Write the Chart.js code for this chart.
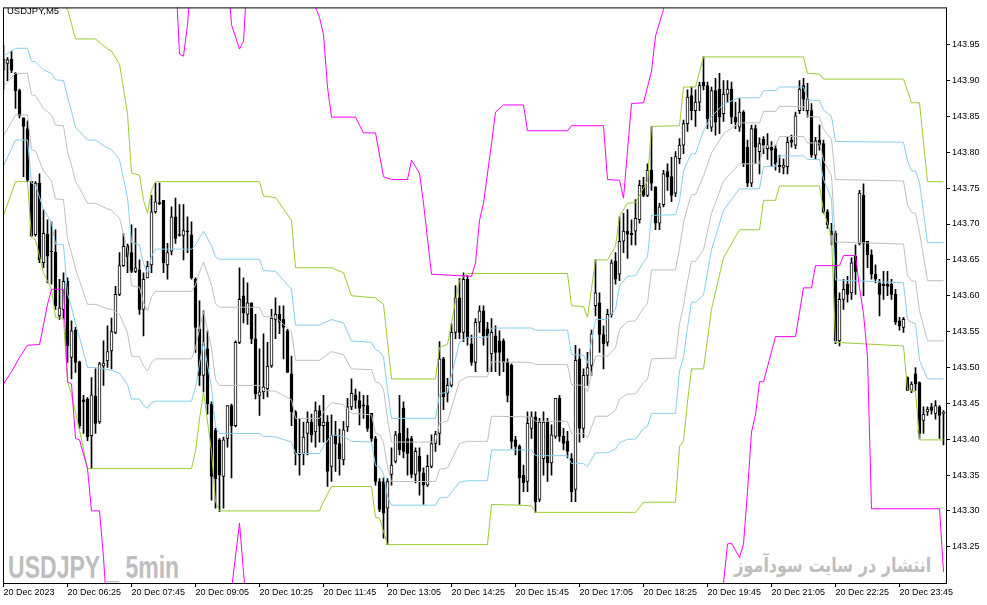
<!DOCTYPE html>
<html><head><meta charset="utf-8">
<script src="https://cdn.jsdelivr.net/npm/chart.js@4"></script>
<style>
html,body{margin:0;padding:0;background:#fff;}
#wrap{position:relative;width:987px;height:605px;overflow:hidden;background:#fff;}
#c{position:absolute;left:0;top:0;z-index:2;}
.wm{position:absolute;white-space:nowrap;color:#bebebe;z-index:1;line-height:1;}
#wm1{left:8px;top:549px;font:bold 32px "Liberation Sans",Arial,sans-serif;transform:scaleX(0.72);transform-origin:left top;}
#wm2{right:56px;top:553px;font:bold 20px "DejaVu Sans",sans-serif;transform:scaleX(0.8);transform-origin:right top;}
#title{position:absolute;left:7px;top:5px;z-index:3;font:9.5px "Liberation Sans",Arial,sans-serif;color:#000;line-height:11px;}
</style></head><body>
<div id="wrap">
<div class="wm" id="wm1">USDJPY _ 5min</div>
<div class="wm" id="wm2" dir="rtl">انتشار در سایت سودآموز</div>
<canvas id="c" width="987" height="605"></canvas>
<div id="title">USDJPY,M5</div>
</div>
<script>
// ---- tick labels ----
const xTickBars = [0,16,32,48,64,80,96,112,128,144,160,176,192,208,224];
const xTickLabels = ["20 Dec 2023","20 Dec 06:25","20 Dec 07:45","20 Dec 09:05","20 Dec 10:25","20 Dec 11:45","20 Dec 13:05","20 Dec 14:25","20 Dec 15:45","20 Dec 17:05","20 Dec 18:25","20 Dec 19:45","20 Dec 21:05","20 Dec 22:25","20 Dec 23:45"];
const yTickValues = [143.25,143.30,143.35,143.40,143.45,143.50,143.55,143.60,143.65,143.70,143.75,143.80,143.85,143.90,143.95];

// ---- candles (5 min bars, index 0 = first visible bar) ----
const opens = [143.915,143.924,143.930,143.910,143.886,143.848,143.833,143.759,143.685,143.757,143.646,143.686,143.662,143.661,143.572,143.581,143.620,143.514,143.552,143.508,143.455,143.456,143.405,143.460,143.424,143.502,143.509,143.523,143.549,143.602,143.642,143.670,143.660,143.634,143.636,143.581,143.625,143.643,143.717,143.730,143.733,143.643,143.662,143.710,143.685,143.684,143.690,143.685,143.623,143.553,143.489,143.526,143.449,143.412,143.399,143.348,143.401,143.447,143.419,143.535,143.600,143.574,143.590,143.540,143.461,143.466,143.470,143.502,143.567,143.574,143.567,143.551,143.491,143.438,143.380,143.380,143.408,143.424,143.410,143.440,143.419,143.424,143.362,143.406,143.394,143.371,143.417,143.445,143.462,143.454,143.448,143.447,143.436,143.401,143.341,143.341,143.304,143.351,143.369,143.408,143.443,143.401,143.401,143.351,143.376,143.353,143.336,143.362,143.394,143.408,143.512,143.464,143.475,143.549,143.597,143.549,143.623,143.533,143.507,143.563,143.579,143.554,143.519,143.544,143.537,143.537,143.507,143.503,143.399,143.390,143.350,143.341,143.415,143.431,143.316,143.373,143.424,143.367,143.404,143.457,143.404,143.397,143.373,143.330,143.512,143.415,143.489,143.503,143.586,143.590,143.546,143.535,143.574,143.648,143.630,143.676,143.690,143.687,143.690,143.706,143.754,143.740,143.775,143.752,143.701,143.727,143.773,143.766,143.743,143.791,143.810,143.840,143.879,143.858,143.870,143.898,143.893,143.835,143.886,143.888,143.854,143.881,143.888,143.849,143.835,143.856,143.807,143.757,143.833,143.801,143.818,143.805,143.807,143.805,143.782,143.779,143.780,143.817,143.810,143.858,143.893,143.858,143.858,143.796,143.817,143.812,143.717,143.690,143.687,143.537,143.595,143.616,143.604,143.655,143.673,143.740,143.676,143.657,143.630,143.618,143.616,143.616,143.616,143.602,143.565,143.556,143.486,143.468,143.491,143.479,143.426,143.438,143.445,143.436,143.445,143.436];
const highs = [143.949,143.932,143.941,143.911,143.888,143.848,143.844,143.759,143.759,143.770,143.720,143.706,143.703,143.692,143.623,143.632,143.625,143.565,143.556,143.509,143.461,143.458,143.486,143.498,143.507,143.537,143.558,143.569,143.613,143.660,143.687,143.672,143.699,143.694,143.650,143.632,143.648,143.740,143.757,143.757,143.733,143.673,143.724,143.736,143.727,143.727,143.710,143.703,143.625,143.593,143.579,143.551,143.452,143.415,143.401,143.403,143.447,143.449,143.537,143.639,143.625,143.618,143.590,143.574,143.526,143.547,143.535,143.581,143.597,143.586,143.586,143.553,143.516,143.440,143.429,143.424,143.438,143.435,143.452,143.447,143.461,143.433,143.434,143.425,143.414,143.425,143.457,143.484,143.470,143.466,143.461,143.461,143.436,143.404,143.345,143.346,143.345,143.388,143.411,143.461,143.452,143.415,143.404,143.388,143.388,143.360,143.378,143.406,143.411,143.536,143.514,143.485,143.561,143.614,143.624,143.632,143.628,143.545,143.568,143.586,143.586,143.563,143.568,143.558,143.551,143.540,143.512,143.505,143.404,143.392,143.364,143.438,143.438,143.438,143.429,143.438,143.429,143.420,143.457,143.461,143.415,143.411,143.380,143.531,143.526,143.498,143.521,143.552,143.650,143.604,143.558,143.581,143.650,143.660,143.710,143.715,143.720,143.706,143.734,143.761,143.765,143.784,143.836,143.752,143.729,143.775,143.784,143.793,143.801,143.819,143.845,143.887,143.891,143.887,143.898,143.933,143.898,143.891,143.903,143.910,143.900,143.900,143.898,143.870,143.875,143.858,143.817,143.838,143.838,143.820,143.822,143.826,143.815,143.810,143.796,143.791,143.822,143.824,143.856,143.900,143.903,143.896,143.868,143.821,143.838,143.817,143.720,143.701,143.690,143.604,143.623,143.627,143.653,143.671,143.747,143.756,143.676,143.664,143.643,143.623,143.634,143.634,143.623,143.609,143.570,143.570,143.487,143.480,143.500,143.480,143.445,143.445,143.450,143.454,143.447,143.440];
const lows = [143.888,143.900,143.911,143.861,143.848,143.766,143.759,143.683,143.683,143.646,143.639,143.618,143.616,143.581,143.567,143.567,143.507,143.484,143.493,143.415,143.408,143.398,143.359,143.408,143.422,143.475,143.500,143.498,143.547,143.600,143.641,143.632,143.632,143.632,143.574,143.544,143.625,143.632,143.715,143.727,143.632,143.623,143.657,143.673,143.683,143.650,143.660,143.623,143.521,143.475,143.466,143.435,143.315,143.304,143.299,143.304,143.389,143.346,143.417,143.533,143.562,143.560,143.533,143.456,143.433,143.456,143.459,143.500,143.540,143.547,143.512,143.493,143.419,143.364,143.350,143.364,143.378,143.396,143.389,143.396,143.396,143.334,143.341,143.355,143.350,143.364,143.411,143.441,143.443,143.420,143.429,143.411,143.397,143.336,143.299,143.262,143.253,143.336,143.367,143.378,143.374,143.350,143.346,143.339,143.322,143.309,143.334,143.360,143.383,143.392,143.441,143.452,143.473,143.540,143.540,143.536,143.531,143.503,143.494,143.549,143.531,143.494,143.494,143.494,143.489,143.494,143.452,143.387,143.378,143.309,143.327,143.327,143.401,143.298,143.313,143.350,143.341,143.350,143.401,143.397,143.385,143.374,143.313,143.313,143.396,143.402,143.475,143.489,143.572,143.521,143.498,143.530,143.570,143.616,143.621,143.660,143.652,143.671,143.671,143.701,143.738,143.738,143.747,143.692,143.692,143.724,143.747,143.731,143.738,143.784,143.798,143.829,143.845,143.836,143.858,143.887,143.833,143.829,143.824,143.826,143.843,143.870,143.840,143.833,143.829,143.780,143.752,143.752,143.784,143.770,143.798,143.790,143.780,143.775,143.772,143.770,143.770,143.807,143.805,143.854,143.858,143.849,143.793,143.791,143.803,143.715,143.694,143.671,143.533,143.530,143.581,143.591,143.595,143.602,143.671,143.600,143.639,143.623,143.618,143.572,143.595,143.600,143.595,143.560,143.552,143.549,143.468,143.465,143.468,143.401,143.408,143.433,143.435,143.428,143.401,143.392];
const closes = [143.930,143.929,143.914,143.886,143.851,143.836,143.761,143.683,143.757,143.650,143.687,143.655,143.661,143.586,143.583,143.620,143.530,143.551,143.507,143.419,143.452,143.403,143.462,143.422,143.505,143.506,143.522,143.550,143.602,143.642,143.669,143.654,143.634,143.639,143.581,143.623,143.641,143.717,143.731,143.728,143.646,143.660,143.710,143.680,143.684,143.691,143.689,143.625,143.556,143.489,143.533,143.449,143.348,143.345,143.350,143.399,143.447,143.419,143.535,143.595,143.576,143.590,143.540,143.463,143.466,143.473,143.502,143.569,143.574,143.563,143.556,143.493,143.438,143.380,143.378,143.403,143.424,143.406,143.440,143.419,143.424,143.355,143.405,143.393,143.373,143.413,143.445,143.464,143.454,143.443,143.446,143.415,143.401,143.341,143.302,143.297,143.341,143.364,143.406,143.385,143.383,143.380,143.351,143.383,143.355,143.336,143.362,143.394,143.407,143.512,143.459,143.475,143.549,143.597,143.549,143.623,143.542,143.507,143.563,143.579,143.544,143.544,143.549,143.521,143.521,143.507,143.461,143.397,143.390,143.346,143.339,143.422,143.431,143.313,143.424,143.424,143.367,143.406,143.457,143.404,143.394,143.383,143.327,143.510,143.415,143.489,143.500,143.547,143.604,143.546,143.533,143.574,143.646,143.623,143.676,143.690,143.686,143.685,143.708,143.754,143.740,143.775,143.757,143.701,143.724,143.770,143.766,143.740,143.794,143.810,143.840,143.877,143.858,143.870,143.893,143.893,143.847,143.886,143.842,143.849,143.881,143.888,143.849,143.842,143.856,143.784,143.757,143.833,143.807,143.812,143.810,143.810,143.803,143.784,143.780,143.782,143.814,143.814,143.851,143.888,143.874,143.874,143.796,143.816,143.810,143.717,143.699,143.685,143.537,143.595,143.609,143.602,143.646,143.634,143.743,143.673,143.657,143.630,143.623,143.602,143.614,143.613,143.602,143.563,143.558,143.567,143.468,143.477,143.477,143.408,143.435,143.442,143.440,143.447,143.433,143.436];

// ---- indicator lines: [bar index, price] vertices ----
const greenUpper = [[0,144.003],[15,144.003],[16,144.000],[18,143.958],[23,143.958],[26,143.944],[27,143.941],[29,143.923],[31,143.854],[32,143.771],[34,143.768],[35,143.733],[36,143.715],[37,143.747],[38,143.759],[64,143.759],[65,143.739],[68,143.737],[72,143.705],[73,143.639],[82,143.639],[85,143.632],[87,143.600],[93,143.597],[95,143.588],[97,143.484],[108,143.484],[109,143.528],[111,143.532],[114,143.622],[116,143.631],[141,143.631],[142,143.586],[145,143.585],[146,143.570],[148,143.650],[151,143.650],[153,143.669],[154,143.711],[156,143.729],[158,143.730],[161,143.760],[162,143.836],[169,143.837],[170,143.891],[173,143.891],[175,143.933],[200,143.933],[201,143.910],[204,143.909],[205,143.902],[225,143.902],[227,143.869],[229,143.869],[231,143.759],[235,143.759]];
const greenLower = [[0,143.712],[3,143.759],[6,143.759],[7,143.681],[8,143.678],[10,143.632],[12,143.609],[13,143.570],[15,143.568],[16,143.480],[17,143.462],[19,143.413],[21,143.359],[47,143.359],[48,143.383],[49,143.428],[50,143.466],[52,143.383],[53,143.313],[54,143.300],[79,143.300],[80,143.313],[82,143.334],[92,143.334],[93,143.291],[94,143.290],[96,143.253],[121,143.253],[122,143.309],[129,143.308],[132,143.307],[133,143.298],[158,143.298],[160,143.312],[168,143.312],[169,143.390],[170,143.397],[171,143.452],[172,143.498],[175,143.498],[177,143.581],[180,143.653],[184,143.692],[189,143.692],[190,143.733],[193,143.733],[194,143.753],[204,143.753],[205,143.719],[207,143.683],[208,143.535],[225,143.530],[226,143.469],[228,143.466],[229,143.399],[235,143.399]];
const blueUpper = [[0,143.934],[3,143.945],[6,143.945],[7,143.927],[8,143.926],[10,143.915],[12,143.910],[13,143.901],[15,143.900],[16,143.877],[17,143.857],[18,143.835],[19,143.829],[21,143.817],[23,143.817],[26,143.806],[27,143.804],[29,143.790],[31,143.737],[32,143.674],[34,143.671],[35,143.645],[36,143.631],[37,143.655],[38,143.665],[47,143.665],[48,143.670],[49,143.681],[50,143.690],[52,143.670],[53,143.654],[54,143.651],[64,143.651],[65,143.635],[68,143.634],[72,143.609],[73,143.559],[79,143.559],[80,143.562],[82,143.567],[85,143.562],[87,143.537],[92,143.535],[93,143.525],[94,143.522],[95,143.515],[96,143.469],[97,143.429],[108,143.429],[109,143.463],[111,143.466],[114,143.535],[116,143.542],[121,143.542],[122,143.555],[132,143.555],[133,143.552],[141,143.552],[142,143.518],[145,143.517],[146,143.506],[148,143.567],[151,143.567],[153,143.581],[154,143.614],[156,143.627],[158,143.628],[160,143.647],[161,143.654],[162,143.712],[168,143.713],[169,143.732],[170,143.774],[171,143.787],[172,143.798],[173,143.798],[175,143.830],[177,143.850],[180,143.867],[184,143.876],[189,143.876],[190,143.886],[193,143.886],[194,143.891],[200,143.891],[201,143.873],[204,143.872],[205,143.859],[207,143.850],[208,143.815],[225,143.814],[226,143.788],[227,143.774],[228,143.774],[229,143.758],[230,143.716],[231,143.674],[235,143.674]];
const grayUpper = [[0,143.892],[3,143.910],[6,143.910],[7,143.880],[8,143.879],[10,143.861],[12,143.852],[13,143.838],[15,143.837],[16,143.801],[17,143.782],[18,143.759],[19,143.750],[21,143.729],[23,143.729],[26,143.721],[27,143.719],[29,143.708],[31,143.665],[32,143.614],[34,143.612],[35,143.590],[36,143.579],[37,143.599],[38,143.606],[47,143.606],[48,143.615],[49,143.633],[50,143.647],[52,143.615],[53,143.589],[54,143.584],[64,143.584],[65,143.571],[68,143.570],[72,143.550],[73,143.510],[79,143.510],[80,143.514],[82,143.522],[85,143.518],[87,143.498],[92,143.497],[93,143.480],[94,143.478],[95,143.470],[96,143.428],[97,143.396],[108,143.396],[109,143.423],[111,143.425],[114,143.481],[116,143.487],[121,143.487],[122,143.508],[132,143.507],[133,143.504],[141,143.504],[142,143.476],[145,143.475],[146,143.466],[148,143.516],[151,143.516],[153,143.527],[154,143.553],[156,143.564],[158,143.565],[160,143.583],[161,143.589],[162,143.636],[168,143.636],[169,143.666],[170,143.702],[171,143.723],[172,143.741],[173,143.741],[175,143.767],[177,143.799],[180,143.826],[184,143.841],[189,143.841],[190,143.857],[193,143.857],[194,143.864],[200,143.864],[201,143.850],[204,143.849],[205,143.832],[207,143.818],[208,143.762],[225,143.760],[226,143.727],[227,143.716],[228,143.715],[229,143.689],[230,143.655],[231,143.621],[235,143.621]];
const grayLower = [[0,143.823],[3,143.852],[6,143.852],[7,143.804],[8,143.802],[10,143.774],[12,143.760],[13,143.735],[15,143.734],[16,143.679],[17,143.660],[18,143.637],[19,143.621],[21,143.588],[23,143.588],[26,143.582],[27,143.581],[29,143.574],[31,143.548],[32,143.516],[34,143.515],[35,143.502],[36,143.495],[37,143.507],[38,143.512],[47,143.512],[48,143.527],[49,143.554],[50,143.578],[52,143.527],[53,143.483],[54,143.475],[64,143.475],[65,143.468],[68,143.467],[72,143.455],[73,143.429],[79,143.429],[80,143.438],[82,143.451],[85,143.448],[87,143.436],[92,143.434],[93,143.408],[94,143.406],[95,143.396],[96,143.361],[97,143.341],[108,143.341],[109,143.358],[111,143.360],[114,143.394],[116,143.397],[121,143.397],[122,143.432],[132,143.431],[133,143.425],[141,143.425],[142,143.408],[145,143.408],[146,143.402],[148,143.432],[151,143.432],[153,143.440],[154,143.456],[156,143.463],[158,143.463],[160,143.479],[161,143.483],[162,143.512],[168,143.513],[169,143.561],[170,143.586],[171,143.620],[172,143.648],[173,143.648],[175,143.664],[177,143.715],[180,143.760],[184,143.784],[189,143.784],[190,143.809],[193,143.809],[194,143.822],[200,143.822],[201,143.813],[204,143.813],[205,143.789],[207,143.767],[208,143.675],[225,143.672],[226,143.628],[227,143.621],[228,143.620],[229,143.579],[230,143.558],[231,143.537],[235,143.537]];
const blueLower = [[0,143.781],[3,143.817],[6,143.817],[7,143.757],[8,143.755],[10,143.720],[12,143.702],[13,143.672],[15,143.671],[16,143.603],[17,143.584],[18,143.561],[19,143.542],[21,143.500],[23,143.500],[26,143.497],[27,143.496],[29,143.492],[31,143.476],[32,143.456],[34,143.456],[35,143.447],[36,143.443],[37,143.451],[38,143.453],[47,143.453],[48,143.472],[49,143.506],[50,143.535],[52,143.472],[53,143.418],[54,143.408],[64,143.408],[65,143.404],[68,143.403],[72,143.396],[73,143.380],[79,143.380],[80,143.390],[82,143.406],[85,143.404],[87,143.397],[92,143.396],[93,143.363],[94,143.362],[95,143.351],[96,143.320],[97,143.308],[108,143.308],[109,143.318],[111,143.319],[114,143.340],[116,143.342],[121,143.342],[122,143.385],[132,143.385],[133,143.377],[141,143.377],[142,143.366],[145,143.366],[146,143.362],[148,143.381],[151,143.381],[153,143.386],[154,143.395],[156,143.400],[158,143.400],[160,143.415],[161,143.418],[162,143.436],[168,143.436],[169,143.495],[170,143.514],[171,143.556],[172,143.591],[173,143.591],[175,143.601],[177,143.664],[180,143.719],[184,143.749],[189,143.749],[190,143.780],[193,143.780],[194,143.795],[200,143.795],[201,143.790],[204,143.790],[205,143.762],[207,143.735],[208,143.622],[225,143.618],[226,143.567],[227,143.563],[228,143.561],[229,143.510],[230,143.497],[231,143.484],[235,143.484]];
const magentaUpper = [[0,144.05],[43,144.05],[44,143.937],[45,143.934],[46,143.978],[47,144.05],[56,144.05],[57,143.978],[59,143.944],[60,143.955],[61,144.05],[77,144.05],[78,144.002],[79,143.988],[80,143.964],[81,143.891],[82,143.849],[88,143.849],[90,143.827],[93,143.827],[95,143.766],[97,143.762],[101,143.762],[102,143.789],[104,143.771],[105,143.729],[107,143.630],[117,143.627],[118,143.646],[119,143.705],[120,143.729],[122,143.812],[123,143.856],[125,143.866],[130,143.866],[131,143.830],[141,143.830],[142,143.837],[150,143.837],[151,143.762],[154,143.761],[155,143.736],[157,143.868],[160,143.869],[162,143.913],[163,143.962],[165,143.999],[166,144.05],[235,144.05]];
const magentaLower = [[0,143.477],[2,143.494],[4,143.514],[6,143.531],[9,143.532],[10,143.559],[11,143.588],[12,143.609],[15,143.609],[16,143.480],[17,143.477],[18,143.401],[19,143.399],[21,143.359],[22,143.300],[24,143.300],[25,143.235],[26,143.15],[56,143.15],[57,143.19],[59,143.283],[60,143.215],[61,143.15],[179,143.15],[180,143.199],[181,143.254],[182,143.255],[184,143.235],[185,143.254],[186,143.327],[187,143.410],[188,143.434],[189,143.480],[190,143.480],[193,143.543],[198,143.543],[200,143.611],[202,143.611],[203,143.642],[209,143.642],[210,143.656],[213,143.656],[214,143.611],[215,143.575],[216,143.515],[217,143.303],[234,143.303],[235,143.215]];

const toPts = arr => arr.map(p => ({x: p[0], y: p[1]}));
const lineDs = (arr, color) => ({type:'line', data: toPts(arr), borderColor: color, borderWidth: 1, pointRadius: 0, tension: 0, fill: false, order: 0});

const wickData = opens.map((o, i) => ({x: i, y: [lows[i], highs[i]]}));
const bodyData = opens.map((o, i) => ({x: i, y: [o, closes[i]]}));
const bodyFill = opens.map((o, i) => closes[i] >= o ? '#ffffff' : '#000000');

const framePlugin = {
  id: 'frame',
  afterDraw(chart) {
    const a = chart.chartArea, ctx = chart.ctx;
    ctx.save();
    ctx.strokeStyle = '#000';
    ctx.lineWidth = 1;
    ctx.strokeRect(a.left + 0.5, a.top + 0.5, a.right - a.left, a.bottom - a.top);
    ctx.restore();
  }
};

const tickFont = {family: '"Liberation Sans", Arial, sans-serif', size: 9};

new Chart(document.getElementById('c').getContext('2d'), {
  type: 'bar',
  data: {
    datasets: [
      lineDs(magentaUpper, '#ff00ff'),
      lineDs(magentaLower, '#ff00ff'),
      lineDs(greenUpper, '#9acd32'),
      lineDs(greenLower, '#9acd32'),
      lineDs(blueUpper, '#87ceeb'),
      lineDs(blueLower, '#87ceeb'),
      lineDs(grayUpper, '#c0c0c0'),
      lineDs(grayLower, '#c0c0c0'),
      {type:'bar', data: bodyData, backgroundColor: bodyFill, borderColor: '#000', borderWidth: 1, borderSkipped: false, barThickness: 3, grouped: false, minBarLength: 1, order: 1},
      {type:'bar', data: wickData, backgroundColor: '#000', borderWidth: 0, barThickness: 1, grouped: false, minBarLength: 1, order: 2}
    ]
  },
  options: {
    responsive: false,
    animation: false,
    devicePixelRatio: 1,
    events: [],
    layout: {padding: {left: 3, top: 3, right: 0, bottom: 0}},
    plugins: {legend: {display: false}, tooltip: {enabled: false}, title: {display: false}},
    scales: {
      x: {
        type: 'linear', position: 'bottom', min: -0.125, max: 235.625, offset: false,
        grid: {display: true, drawOnChartArea: false, drawTicks: true, tickLength: 4, color: '#000', offset: false},
        border: {display: false},
        ticks: {autoSkip: false, maxRotation: 0, minRotation: 0, align: 'start', padding: 0, color: '#000', font: tickFont,
                callback: (v, i) => xTickLabels[i]},
        afterBuildTicks: s => { s.ticks = xTickBars.map(v => ({value: v})); },
        afterFit: s => { s.height = 22; }
      },
      y: {
        type: 'linear', position: 'right', min: 143.1995, max: 144.002,
        grid: {display: true, drawOnChartArea: false, drawTicks: true, tickLength: 4, color: '#000'},
        border: {display: false},
        ticks: {padding: 2, color: '#000', font: tickFont, callback: v => Number(v).toFixed(2)},
        afterBuildTicks: s => { s.ticks = yTickValues.map(v => ({value: v})); },
        afterFit: s => { s.width = 41; }
      }
    }
  },
  plugins: [framePlugin]
});
</script>
</body></html>
